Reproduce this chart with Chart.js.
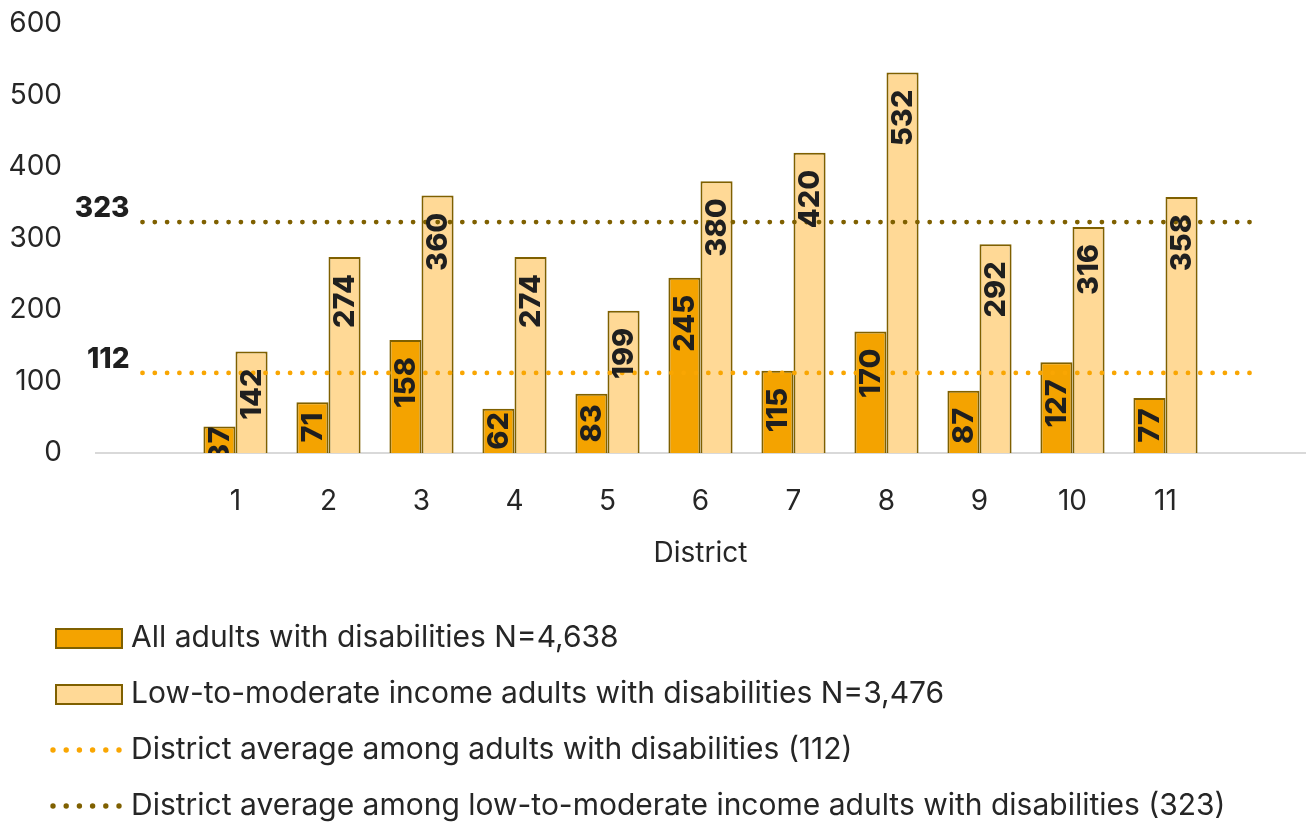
<!DOCTYPE html>
<html>
<head>
<meta charset="utf-8">
<script src="https://cdn.jsdelivr.net/npm/chart.js@4.4.1/dist/chart.umd.min.js"></script>
<style>
  html, body { margin: 0; padding: 0; background: #fff; }
  #wrap { width: 1307px; height: 826px; }
</style>
</head>
<body>
<div id="wrap"><canvas id="chart"></canvas></div>
<script>
// districts, with an empty slot at each end as in the original
const districts = ['', '1', '2', '3', '4', '5', '6', '7', '8', '9', '10', '11', '']
const allAdults = [null, 37, 71, 158, 62, 83, 245, 115, 170, 87, 127, 77, null]
const lowIncome = [null, 142, 274, 360, 274, 199, 380, 420, 532, 292, 316, 358, null]
const avgAll = 112
const avgLow = 323
const yTicks = [0, 100, 200, 300, 400, 500, 600]
const seriesNames = [
    'All adults with disabilities N=4,638',
    'Low-to-moderate income adults with disabilities N=3,476',
    'District average among adults with disabilities (112)',
    'District average among low-to-moderate income adults with disabilities (323)'
]

const FONT = "Inter, 'Noto Sans', sans-serif"
const TEXT = '#262626'
const ORANGE = '#F4A300'
const LIGHT = '#FFD996'
const OLIVE = '#7F6000'
const DOT_ORANGE = '#F9A602'

// legend icons drawn on small canvases
function boxIcon(fill) {
    const c = document.createElement('canvas')
    c.width = 96; c.height = 24
    const g = c.getContext('2d')
    g.fillStyle = fill
    g.fillRect(28, 2, 68, 20)
    g.strokeStyle = OLIVE
    g.lineWidth = 2
    g.strokeRect(29, 3, 66, 19)
    return c
}
function dotIcon(color) {
    const c = document.createElement('canvas')
    c.width = 96; c.height = 24
    const g = c.getContext('2d')
    g.fillStyle = color
    for (let k = 0; k < 6; k++) {
        g.beginPath()
        g.arc(26 + k * 13.2, 12, 2.7, 0, Math.PI * 2)
        g.fill()
    }
    return c
}
const legendIcons = [boxIcon(ORANGE), boxIcon(LIGHT), dotIcon(DOT_ORANGE), dotIcon(OLIVE)]

const labelPlugin = {
    id: 'barLabels',
    afterDatasetsDraw(chart) {
        const ctx = chart.ctx
        const area = chart.chartArea
        ctx.save()
        ctx.beginPath()
        ctx.rect(area.left, area.top, area.right - area.left, area.bottom - area.top)
        ctx.clip()
        ctx.font = '800 29px ' + FONT
        ctx.fillStyle = '#1f1f1f'
        ctx.textBaseline = 'middle'
        ctx.textAlign = 'right';
        [0, 1].forEach(di => {
            const meta = chart.getDatasetMeta(di)
            meta.data.forEach((bar, i) => {
                const v = chart.data.datasets[di].data[i]
                if (v == null) return
                const text = String(v)
                const len = ctx.measureText(text).width
                let end = bar.y + 17
                if (end + len > bar.base - 8) end = Math.max(bar.y, (bar.y + bar.base - len) / 2)
                ctx.save()
                ctx.translate(bar.x + 1, end)
                ctx.rotate(-Math.PI / 2)
                ctx.fillText(text, 0, 0)
                ctx.restore()
            })
        })
        ctx.restore()

        // value labels at the start of the average lines
        ctx.save()
        ctx.font = '800 28px ' + FONT
        ctx.fillStyle = '#1f1f1f'
        ctx.textAlign = 'right'
        ctx.textBaseline = 'middle'
        ;[2, 3].forEach(di => {
            const pt = chart.getDatasetMeta(di).data[0]
            ctx.fillText(String(chart.data.datasets[di].data[0]), pt.x - 13, pt.y - 13)
        })
        ctx.restore()
    }
}

new Chart(document.getElementById('chart'), {
    type: 'bar',
    data: {
        labels: districts,
        datasets: [
            {
                label: seriesNames[0],
                data: allAdults,
                backgroundColor: ORANGE,
                borderColor: OLIVE,
                borderWidth: 2,
                order: 2
            },
            {
                label: seriesNames[1],
                data: lowIncome,
                backgroundColor: LIGHT,
                borderColor: OLIVE,
                borderWidth: 2,
                order: 2
            },
            {
                type: 'line',
                label: seriesNames[2],
                data: districts.map(() => avgAll),
                borderColor: DOT_ORANGE,
                borderWidth: 4.8,
                borderDash: [0, 12.3],
                borderCapStyle: 'round',
                pointRadius: 0,
                fill: false,
                order: 1
            },
            {
                type: 'line',
                label: seriesNames[3],
                data: districts.map(() => avgLow),
                borderColor: OLIVE,
                borderWidth: 4.8,
                borderDash: [0, 12.3],
                borderCapStyle: 'round',
                pointRadius: 0,
                fill: false,
                order: 1
            }
        ]
    },
    options: {
        responsive: true,
        maintainAspectRatio: false,
        animation: false,
        layout: { padding: { left: 8, right: 2, top: 0, bottom: -5 } },
        datasets: { bar: { categoryPercentage: 0.69, barPercentage: 1 } },
        scales: {
            x: {
                grid: { display: false, drawTicks: false },
                border: { color: '#d9d9d9', width: 2 },
                ticks: { color: TEXT, font: { family: FONT, size: 28 }, padding: 32 },
                title: { display: true, text: 'District', color: TEXT, font: { family: FONT, size: 28 }, padding: { top: 0, bottom: 27 } },
                afterFit: axis => { axis.height = 144 }
            },
            y: {
                min: yTicks[0],
                max: yTicks[yTicks.length - 1],
                afterBuildTicks: axis => { axis.ticks = yTicks.map(v => ({ value: v })) },
                grid: { display: false, drawTicks: false },
                border: { display: false },
                ticks: { color: TEXT, font: { family: FONT, size: 28 }, padding: 34 },
                afterFit: axis => { axis.width = 88; axis.paddingTop = 24 }
            }
        },
        plugins: {
            tooltip: { enabled: false },
            legend: {
                position: 'bottom',
                align: 'start',
                labels: {
                    usePointStyle: true,
                    pointStyleWidth: 82,
                    boxHeight: 30,
                    padding: 26,
                    color: TEXT,
                    font: { family: FONT, size: 30 },
                    generateLabels: chart => chart.data.datasets.map((ds, i) => ({
                        text: ds.label,
                        pointStyle: legendIcons[i],
                        datasetIndex: i,
                        hidden: false,
                        fontColor: TEXT,
                        fillStyle: 'transparent',
                        strokeStyle: 'transparent',
                        lineWidth: 0
                    }))
                }
            }
        }
    },
    plugins: [labelPlugin]
})
</script>
</body>
</html>
